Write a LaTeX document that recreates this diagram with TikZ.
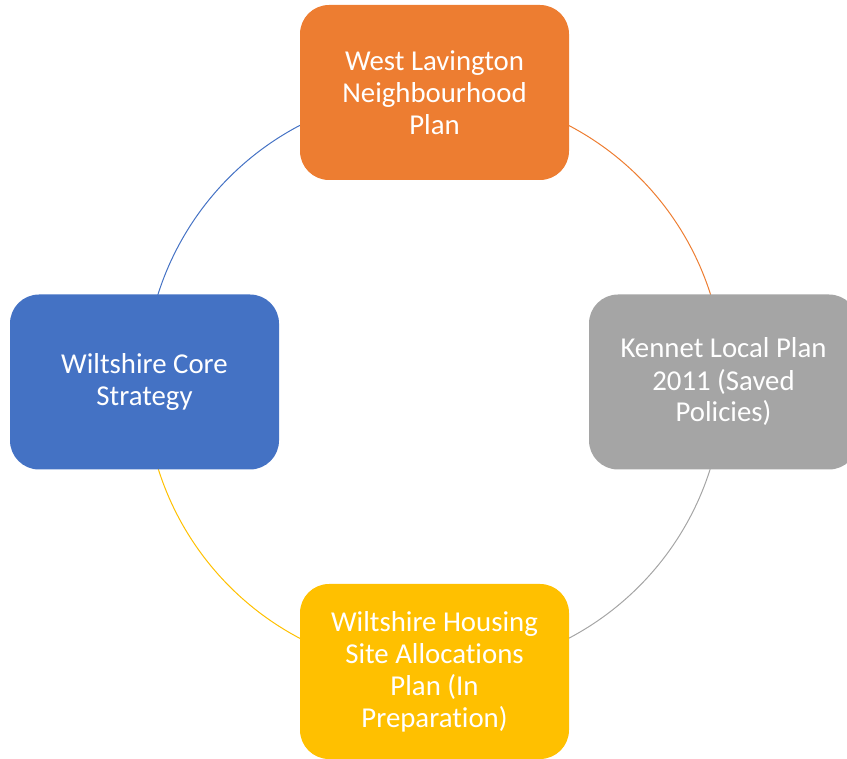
\documentclass[tikz,border=0pt]{standalone}
\usepackage{fontspec}
\setmainfont{Carlito}[Ligatures=NoCommon]
\usepackage{tikz}
\usetikzlibrary{backgrounds}

\definecolor{planorange}{HTML}{ED7D31}
\definecolor{plangray}{HTML}{A5A5A5}
\definecolor{planyellow}{HTML}{FFC000}
\definecolor{planblue}{HTML}{4472C4}

\begin{document}
\begin{tikzpicture}[x=0.75pt, y=0.75pt]

\tikzstyle{box1}=[rectangle, rounded corners=21.75pt, minimum width=201.75pt, minimum height=131.25pt, inner sep=0pt, text=white, align=center, font=\fontsize{21.6pt}{24pt}\selectfont]
\tikzstyle{ring}=[line width=0.75pt]

\clip (0,0) rectangle (847,758);

\node (WL) [box1, fill=planorange] at (434.5, 665.5) {West Lavington\\Neighbourhood\\Plan};

\node (KL) [box1, fill=plangray] at (723.5, 376) {Kennet Local Plan\\2011 (Saved\\Policies)};

\node (WH) [box1, fill=planyellow] at (434.5, 86.5) {Wiltshire Housing\\Site Allocations\\Plan (In\\Preparation)};

\node (WC) [box1, fill=planblue] at (144.5, 376) {Wiltshire Core\\Strategy};

\begin{scope}[on background layer]
\draw [ring, planorange] (WL.center) arc[start angle=90, end angle=0, radius=217.125pt];
\draw [ring, plangray] (KL.center) arc[start angle=0, end angle=-90, radius=217.125pt];
\draw [ring, planyellow] (WH.center) arc[start angle=-90, end angle=-180, radius=217.125pt];
\draw [ring, planblue] (WC.center) arc[start angle=180, end angle=90, radius=217.125pt];
\end{scope}

\end{tikzpicture}
\end{document}
